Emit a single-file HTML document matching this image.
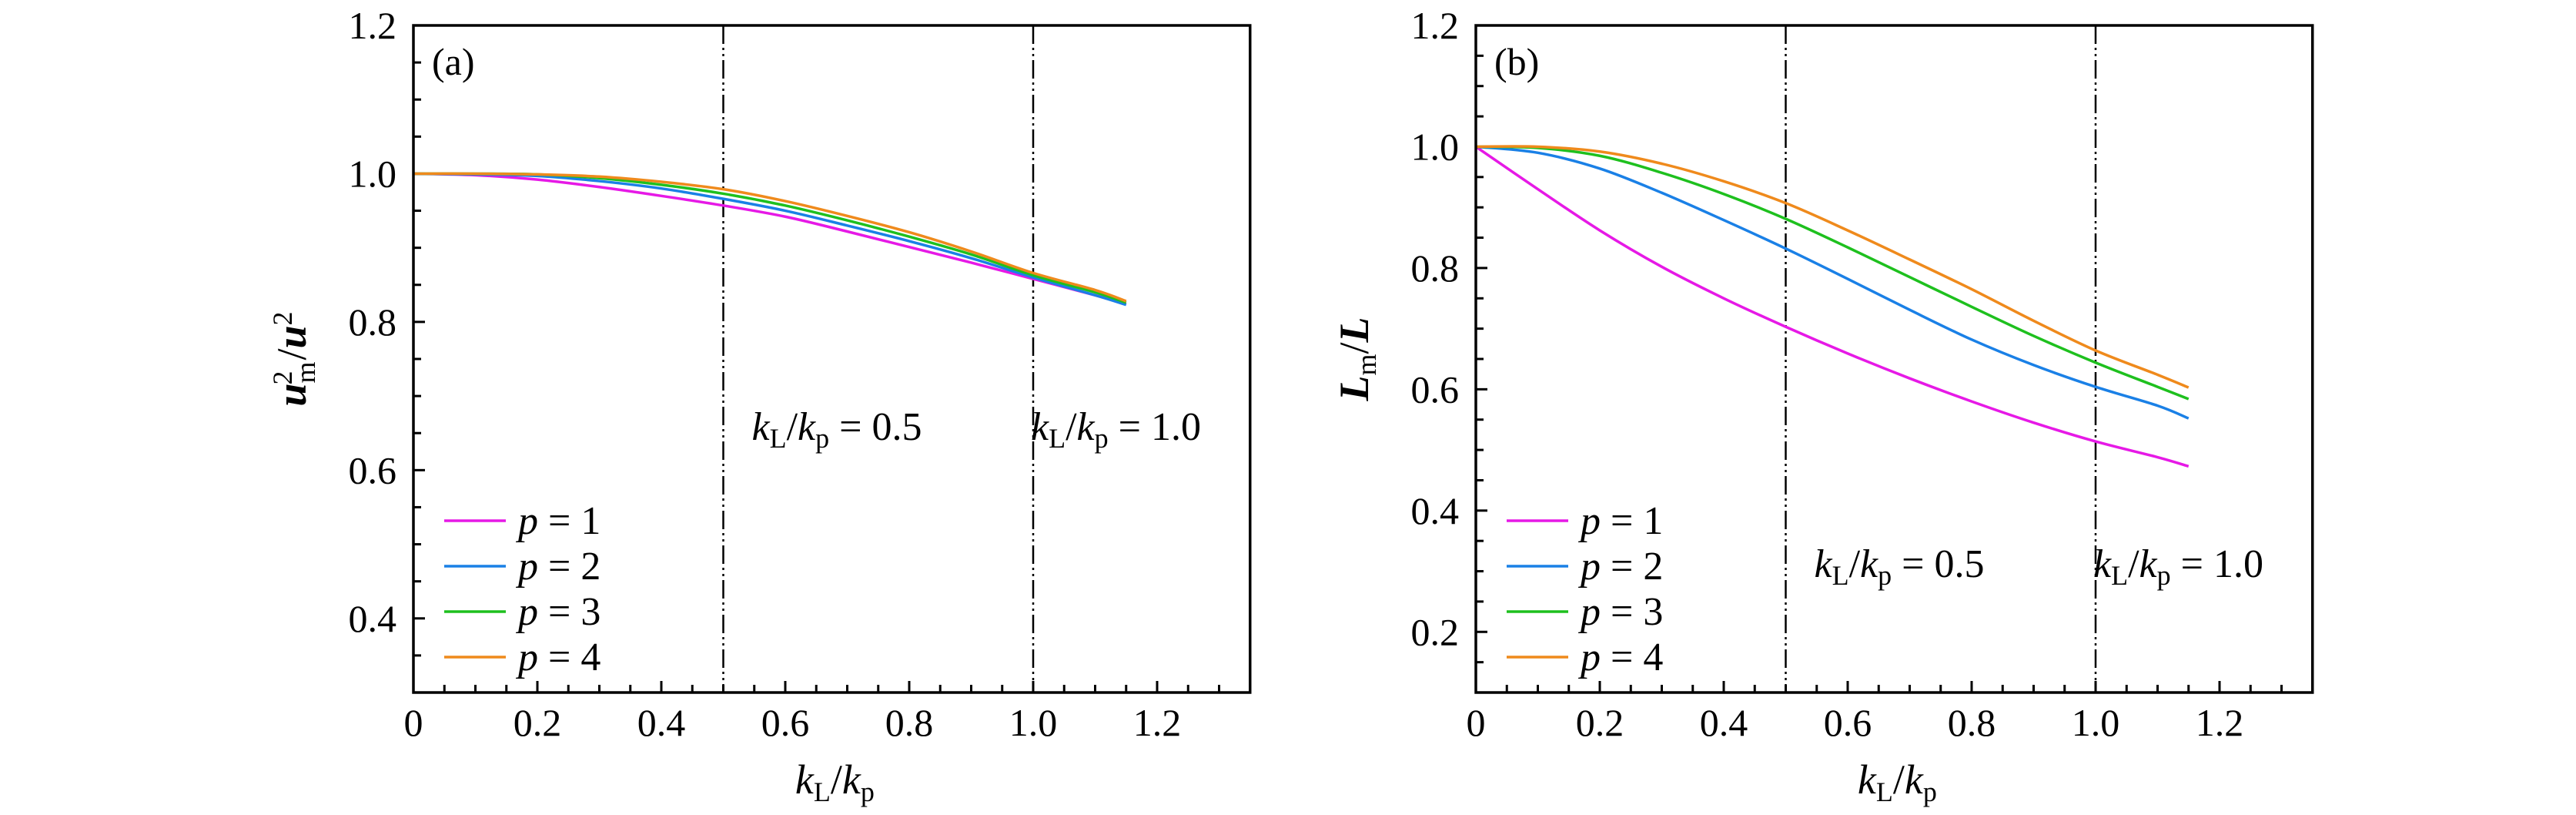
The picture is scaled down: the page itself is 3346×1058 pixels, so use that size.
<!DOCTYPE html>
<html><head><meta charset="utf-8"><style>
body{margin:0;background:#fff}
svg, svg text, svg tspan{font-family:"Liberation Serif","DejaVu Serif",serif;fill:#000}
</style></head><body>
<svg id="chart" width="3346" height="1053" viewBox="0 0 3346 1053" xmlns="http://www.w3.org/2000/svg" font-family="Liberation Serif, serif" style="font-family:'Liberation Serif',serif"></svg>
<script>
const xs = [0,0.1,0.2,0.3,0.4,0.5,0.6,0.7,0.8,0.9,1.0,1.1,1.15];
const seriesNames = ["p = 1","p = 2","p = 3","p = 4"];
const colors = ["#e619e6","#1a80e6","#1ec01e","#ef8a1c"];
const aP1 = [1,0.998,0.992,0.982,0.97,0.957,0.942,0.922,0.901,0.88,0.858,0.836,0.824];
const aP2 = [1,0.999,0.997,0.99,0.98,0.966,0.95,0.93,0.909,0.886,0.86,0.836,0.823];
const aP3 = [1,1,0.999,0.994,0.985,0.973,0.957,0.937,0.915,0.891,0.863,0.84,0.826];
const aP4 = [1,1,0.999,0.996,0.989,0.979,0.963,0.943,0.921,0.895,0.866,0.843,0.828];
const bP1 = [1,0.93,0.862,0.802,0.75,0.703,0.659,0.618,0.58,0.545,0.514,0.488,0.473];
const bP2 = [1,0.99,0.964,0.924,0.879,0.832,0.782,0.731,0.682,0.64,0.604,0.573,0.552];
const bP3 = [1,0.998,0.985,0.957,0.922,0.881,0.834,0.785,0.736,0.688,0.644,0.604,0.584];
const bP4 = [1,1,0.992,0.972,0.943,0.907,0.862,0.814,0.765,0.713,0.664,0.624,0.603];
const xTicks = [0,0.2,0.4,0.6,0.8,1.0,1.2];
const xTickLabels = ["0","0.2","0.4","0.6","0.8","1.0","1.2"];
const aYTicks = [0.4,0.6,0.8,1.0,1.2];
const bYTicks = [0.2,0.4,0.6,0.8,1.0,1.2];
const vLines = [0.5,1.0];
const vLineLabels = ["0.5","1.0"];

const NS="http://www.w3.org/2000/svg";
const svg=document.getElementById('chart');
function mk(tag,attrs,parent){const e=document.createElementNS(NS,tag);for(const k in attrs)e.setAttribute(k,attrs[k]);if(tag==='text')e.setAttribute('font-family','Liberation Serif, serif');(parent||svg).appendChild(e);return e;}

function path(pts){
  let d="M"+pts[0][0]+","+pts[0][1];
  for(let i=0;i<pts.length-1;i++){
    const p0=pts[Math.max(0,i-1)],p1=pts[i],p2=pts[i+1],p3=pts[Math.min(pts.length-1,i+2)];
    const c1=[p1[0]+(p2[0]-p0[0])/6,p1[1]+(p2[1]-p0[1])/6];
    const c2=[p2[0]-(p3[0]-p1[0])/6,p2[1]-(p3[1]-p1[1])/6];
    d+=" C"+c1[0]+","+c1[1]+" "+c2[0]+","+c2[1]+" "+p2[0]+","+p2[1];
  }
  return d;
}

function panel(cfg){
  const g=mk('g',{});
  
  
  const L=cfg.left,T=33,B=899,xmax=1.35,ppx=805;
  const R=L+xmax*ppx;
  const X=v=>L+v*ppx;
  const Y=v=>B-(v-cfg.ymin)/(cfg.ymax-cfg.ymin)*(B-T);
  for(let v=0;v<=1.35001;v+=0.05){
    const major=Math.abs(v/0.2-Math.round(v/0.2))<1e-6;
    const t=mk('line',{x1:X(v),x2:X(v),y1:B,y2:B-(major?15:10),stroke:'#000','stroke-width':3},g);
    
    
  }
  for(let v=cfg.ymin;v<=cfg.ymax+1e-6;v+=0.05){
    const major=Math.abs(v/0.2-Math.round(v/0.2))<1e-6;
    const t=mk('line',{x1:L,x2:L+(major?15:10),y1:Y(v),y2:Y(v),stroke:'#000','stroke-width':3},g);
    
    
  }
  xTicks.forEach((v,i)=>{
    const t=mk('text',{x:X(v),y:955,'font-size':50,'text-anchor':'middle'},g);
    t.textContent=xTickLabels[i];
    
    
  });
  cfg.yTicks.forEach(v=>{
    const t=mk('text',{x:L-22,y:Y(v)+17,'font-size':50,'text-anchor':'end'},g);
    t.textContent=v.toFixed(1);
    
    
  });
  vLines.forEach((v,i)=>{
    const l=mk('line',{x1:X(v),x2:X(v),y1:T,y2:B,stroke:'#000','stroke-width':2.5,'stroke-dasharray':'24 5 3 5 3 5'},g);
    
    
    const t=mk('text',{x:X(v)+(i==0?37:-3),y:cfg.annY,'font-size':52},g);
    t.innerHTML='<tspan font-style="italic">k</tspan><tspan font-size="36" dy="10">L</tspan><tspan dy="-10">/</tspan><tspan font-style="italic">k</tspan><tspan font-size="36" dy="10">p</tspan><tspan dy="-10"> = '+vLineLabels[i]+'</tspan>';
    
    
  });
  cfg.series.forEach((s,i)=>{
    const p=mk('path',{d:path(xs.map((x,j)=>[X(x),Y(s[j])])),fill:'none',stroke:colors[i],'stroke-width':3.5},g);
    
    
  });
  const f=mk('rect',{x:L,y:T,width:R-L,height:B-T,fill:'none',stroke:'#000','stroke-width':3.5},g);
  
  
  seriesNames.forEach((n,i)=>{
    const y=676+i*59;
    const l=mk('line',{x1:L+40,x2:L+120,y1:y,y2:y,stroke:colors[i],'stroke-width':3.5},g);
    
    
    const t=mk('text',{x:L+136,y:y+17,'font-size':52},g);
    t.innerHTML='<tspan font-style="italic">p</tspan> = '+(i+1);
    
    
  });
  const pl=mk('text',{x:L+24,y:97,'font-size':50},g);
  pl.textContent=cfg.label;
  
  
  const xt=mk('text',{x:X(0.68),y:1030,'font-size':54,'text-anchor':'middle'},g);
  xt.innerHTML='<tspan font-style="italic">k</tspan><tspan font-size="36" dy="10">L</tspan><tspan dy="-10">/</tspan><tspan font-style="italic">k</tspan><tspan font-size="36" dy="10">p</tspan>';
  
  
  const yt=mk('text',{x:0,y:0,'font-size':54,'text-anchor':'middle','transform':'translate('+(L-140)+',466) rotate(-90)'},g);
  yt.innerHTML=cfg.yTitle;
  
  
}
panel({name:'panel-a',left:537,ymin:0.3,ymax:1.2,yTicks:aYTicks,series:[aP1,aP2,aP3,aP4],annY:571,label:'(a)',
  yTitle:'<tspan font-style="italic" font-weight="bold">u</tspan><tspan font-size="36" dy="12">m</tspan><tspan font-size="36" dy="-30" dx="-30">2</tspan><tspan dy="18" dx="14">/</tspan><tspan font-style="italic" font-weight="bold">u</tspan><tspan font-size="36" dy="-18">2</tspan>'});
panel({name:'panel-b',left:1917,ymin:0.1,ymax:1.2,yTicks:bYTicks,series:[bP1,bP2,bP3,bP4],annY:749,label:'(b)',
  yTitle:'<tspan font-style="italic" font-weight="bold">L</tspan><tspan font-size="36" dy="10">m</tspan><tspan dy="-10">/</tspan><tspan font-style="italic" font-weight="bold">L</tspan>'});
</script>
</body></html>
